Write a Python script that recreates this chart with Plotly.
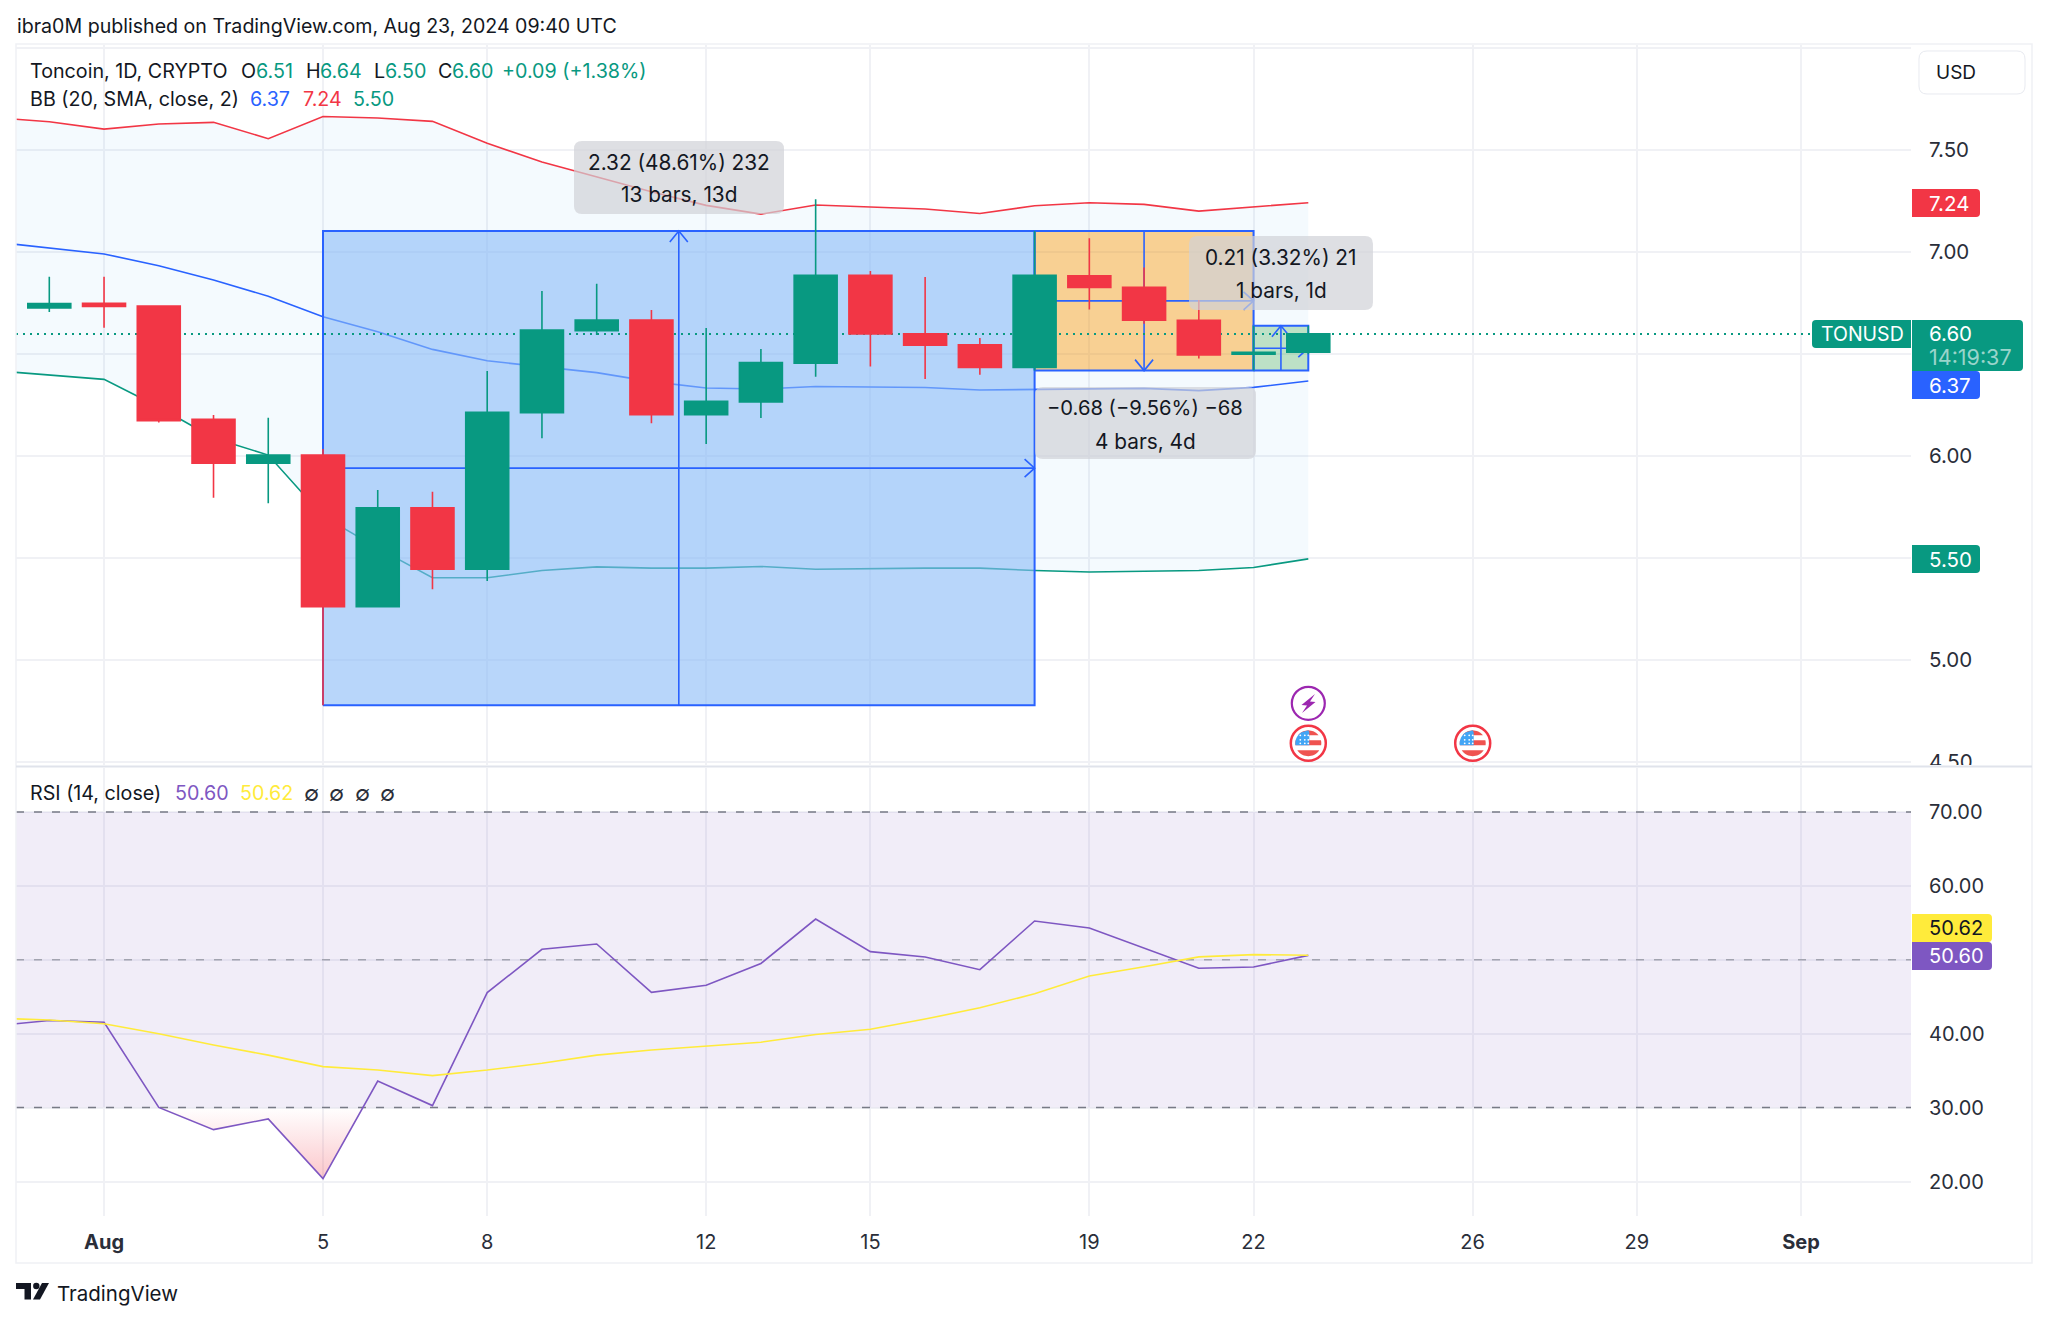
"""Toncoin daily chart with Bollinger Bands, RSI and long/short position tools."""

from __future__ import annotations

import math

import pandas as pd
import plotly.graph_objects as go

# ---- data ----
BAND_DATES = [d.strftime("%Y-%m-%d") for d in pd.date_range("2024-07-30", "2024-08-23")]
CANDLE_DATES = BAND_DATES[1:]

OPEN = [6.727, 6.75, 6.737, 6.181, 5.966, 6.006, 5.263, 5.747, 5.446, 6.214, 6.616, 6.668, 6.204,
        6.266, 6.456, 6.887, 6.60, 6.547, 6.436, 6.885, 6.828, 6.667, 6.50, 6.51]
HIGH = [6.88, 6.88, 6.737, 6.202, 6.189, 6.036, 5.835, 5.826, 6.418, 6.81, 6.846, 6.717, 6.629,
        6.526, 7.26, 6.908, 6.879, 6.58, 7.104, 7.069, 6.926, 6.766, 6.64, 6.64]
LOW = [6.707, 6.63, 6.166, 5.797, 5.77, 4.78, 5.263, 5.348, 5.389, 6.088, 6.595, 6.162, 6.06,
       6.188, 6.39, 6.44, 6.379, 6.40, 6.42, 6.72, 6.65, 6.48, 6.42, 6.50]
CLOSE = [6.749, 6.735, 6.175, 5.966, 6.006, 5.263, 5.747, 5.446, 6.216, 6.619, 6.668, 6.204, 6.27,
         6.459, 6.887, 6.60, 6.544, 6.436, 6.887, 6.828, 6.667, 6.497, 6.51, 6.60]

BB_UPPER = [7.66, 7.64, 7.604, 7.629, 7.637, 7.557, 7.666, 7.658, 7.642, 7.534, 7.443, 7.369, 7.297,
            7.23, 7.187, 7.232, 7.222, 7.212, 7.19, 7.228, 7.243, 7.235, 7.202, 7.224, 7.243]
BB_MID = [7.05, 7.02, 6.992, 6.934, 6.864, 6.785, 6.684, 6.611, 6.524, 6.468, 6.44, 6.41, 6.366,
          6.335, 6.33, 6.342, 6.34, 6.337, 6.325, 6.328, 6.333, 6.333, 6.322, 6.338, 6.369]
BB_LOWER = [6.42, 6.398, 6.377, 6.242, 6.09, 6.006, 5.707, 5.55, 5.405, 5.405, 5.44, 5.458, 5.452,
            5.452, 5.46, 5.446, 5.45, 5.452, 5.452, 5.44, 5.433, 5.436, 5.44, 5.455, 5.497]

RSI = [41.08, 41.78, 41.54, 30.03, 27.02, 28.47, 20.4, 33.6, 30.27, 45.56, 51.42, 52.14, 45.6,
       46.55, 49.5, 55.52, 51.1, 50.38, 48.66, 55.25, 54.3, 51.55, 48.85, 49.03, 50.6]
RSI_MA = [42.1, 41.85, 41.35, 40.0, 38.47, 37.1, 35.55, 35.08, 34.33, 35.08, 36.0, 37.1, 37.8,
          38.3, 38.85, 39.9, 40.6, 41.98, 43.5, 45.4, 47.8, 49.07, 50.4, 50.7, 50.62]

X_START = "2024-07-30 09:24"
X_END = "2024-09-03 00:15"
X_TICKS = ["2024-08-01", "2024-08-05", "2024-08-08", "2024-08-12", "2024-08-15", "2024-08-19",
           "2024-08-22", "2024-08-26", "2024-08-29", "2024-09-01"]
X_LABELS = ["<b>Aug</b>", "5", "8", "12", "15", "19", "22", "26", "29", "<b>Sep</b>"]
PRICE_TICKS = [4.5, 5.0, 5.5, 6.0, 6.5, 7.0, 7.5, 8.0]
PRICE_LABELS = ["4.50", "5.00", "", "6.00", "", "7.00", "7.50", ""]
RSI_TICKS = [20, 30, 40, 50, 60, 70]
RSI_LABELS = ["20.00", "30.00", "40.00", "", "60.00", "70.00"]
LAST_PRICE = 6.60

# (start, end, bottom, top, fill, vertical arrow points up)
POSITIONS = [
    ("2024-08-05", "2024-08-18", 4.78, 7.104, "rgba(137,187,247,0.6)", True),
    ("2024-08-18", "2024-08-22", 6.42, 7.104, "rgba(252,150,0,0.42)", False),
    ("2024-08-22", "2024-08-23", 6.42, 6.64, "rgba(76,175,80,0.32)", True),
]

# ---- styling ----
GREEN = "#089981"
RED = "#F23645"
BLUE = "#2962FF"
PURPLE = "#7E57C2"
YELLOW = "#FFEB3B"
INK = "#131722"
GRID = "#F0F1F5"
FONT = "Inter"

WIDTH, HEIGHT = 2048, 1321
PLOT_L, PLOT_R, PLOT_T, PLOT_B = 16, 1911, 45, 1216
PANE_SPLIT_TOP, PANE_SPLIT_BOTTOM = 765, 768
BAR_PX = 54.74
PRICE_PX = 204.0
Y_RANGE = [7 - (PANE_SPLIT_TOP - 252.3) / PRICE_PX, 7 + (252.3 - PLOT_T) / PRICE_PX]
RSI_RANGE = [70 - (PLOT_B - 812) / 7.39, 70 + (812 - PANE_SPLIT_BOTTOM) / 7.39]


def px_x(x):
    return (x - PLOT_L) / (PLOT_R - PLOT_L)


def px_y(y):
    return (PLOT_B - y) / (PLOT_B - PLOT_T)


def shift(date, days):
    return (pd.Timestamp(date) + pd.Timedelta(days=days)).round("s")


def poly_path(points):
    return "M " + " L ".join(f"{px_x(x):.5f},{px_y(y):.5f}" for x, y in points) + " Z"


def round_rect(x0, y0, x1, y1, fill, r=4, line=None, corners=(1, 1, 1, 1)):
    """Pixel box with rounded corners as a paper-space shape (tl, tr, br, bl)."""
    tl, tr, br, bl = [r * c for c in corners]
    p = lambda x, y: f"{px_x(x):.5f},{px_y(y):.5f}"
    path = (
        f"M {p(x0 + tl, y0)} L {p(x1 - tr, y0)} Q {p(x1, y0)} {p(x1, y0 + tr)} "
        f"L {p(x1, y1 - br)} Q {p(x1, y1)} {p(x1 - br, y1)} "
        f"L {p(x0 + bl, y1)} Q {p(x0, y1)} {p(x0, y1 - bl)} "
        f"L {p(x0, y0 + tl)} Q {p(x0, y0)} {p(x0 + tl, y0)} Z"
    )
    return dict(type="path", path=path, xref="paper", yref="paper", fillcolor=fill,
                line=dict(color=line or "rgba(0,0,0,0)", width=1 if line else 0), layer="above")


def circle(cx, cy, r, line, width, fill="#FFFFFF"):
    return dict(type="circle", xref="paper", yref="paper", x0=px_x(cx - r), x1=px_x(cx + r),
                y0=px_y(cy + r), y1=px_y(cy - r), fillcolor=fill,
                line=dict(color=line, width=width), layer="above")


def disc_slice(cx, cy, r, y0, y1, x_max=None):
    """Part of a disc between two pixel rows, optionally cut at a right edge."""
    rows = [y0 + (y1 - y0) * i / 8 for i in range(9)]
    left, right = [], []
    for y in rows:
        half = math.sqrt(max(r * r - (y - cy) ** 2, 0))
        left.append((cx - half, y))
        right.append((min(cx + half, x_max) if x_max is not None else cx + half, y))
    return poly_path(left + right[::-1])


def flag_shapes(cx, cy):
    shapes = [circle(cx, cy, 17.5, "#F23645", 2.5)]
    r = 13
    stripes = [(-13, -8, "#EF5350"), (-3, 2, "#EF5350"), (7, 13, "#EF5350")]
    for y0, y1, color in stripes:
        shapes.append(dict(type="path", path=disc_slice(cx, cy, r, cy + y0, cy + y1),
                           xref="paper", yref="paper", fillcolor=color, line_width=0, layer="above"))
    shapes.append(dict(type="path", path=disc_slice(cx, cy, r, cy - 13, cy + 2, x_max=cx + 1),
                       xref="paper", yref="paper", fillcolor="#42A5F5", line_width=0, layer="above"))
    # the stars of the canton
    for dx in (-8, -3.5, 0):
        for dy in (-8, -3.5, 0):
            shapes.append(circle(cx + dx, cy + dy, 0.9, "#FFFFFF", 0))
    return shapes


def label(text, x, y, color=INK, size=19.7, anchor="left"):
    return dict(text=text, x=px_x(x), y=px_y(y), xref="paper", yref="paper", showarrow=False,
                xanchor=anchor, yanchor="middle", borderpad=0, align="center",
                font=dict(family=FONT, size=size, color=color))


def position_traces(start, end, bottom, top, fill, up):
    """Box, the two centre lines and their arrow heads, all from the tool's corners."""
    head_x = 9 / BAR_PX
    head_y = 11 / PRICE_PX
    t0, t1 = pd.Timestamp(start), pd.Timestamp(end)
    mid_t = t0 + (t1 - t0) / 2
    mid_p = (bottom + top) / 2
    line = dict(color=BLUE, width=1.6)
    traces = [
        go.Scatter(x=[t0, t1, t1, t0, t0], y=[bottom, bottom, top, top, bottom], mode="lines",
                   fill="toself", fillcolor=fill, line=dict(color=BLUE, width=2), hoverinfo="skip"),
        go.Scatter(x=[t0, t1], y=[mid_p, mid_p], mode="lines", line=line, hoverinfo="skip"),
        go.Scatter(x=[mid_t, mid_t], y=[bottom, top], mode="lines", line=line, hoverinfo="skip"),
        go.Scatter(
            x=[shift(t1, -10 / BAR_PX), t1, shift(t1, -10 / BAR_PX)],
            y=[mid_p + 9 / PRICE_PX, mid_p, mid_p - 9 / PRICE_PX],
            mode="lines", line=line, hoverinfo="skip",
        ),
    ]
    tip = top if up else bottom
    back = tip - head_y if up else tip + head_y
    traces.append(
        go.Scatter(x=[shift(mid_t, -head_x), mid_t, shift(mid_t, head_x)], y=[back, tip, back],
                   mode="lines", line=line, hoverinfo="skip")
    )
    return traces


fig = go.Figure()

# Bollinger fill and lines sit at the bottom of the price pane
fig.add_trace(go.Scatter(x=BAND_DATES, y=BB_UPPER, mode="lines", line=dict(color=RED, width=1.6),
                         hoverinfo="skip"))
fig.add_trace(go.Scatter(x=BAND_DATES, y=BB_LOWER, mode="lines", line=dict(color=GREEN, width=1.6),
                         fill="tonexty", fillcolor="rgba(33,150,243,0.05)", hoverinfo="skip"))
fig.add_trace(go.Scatter(x=BAND_DATES, y=BB_MID, mode="lines", line=dict(color=BLUE, width=1.6),
                         hoverinfo="skip"))

for pos in POSITIONS:
    for trace in position_traces(*pos):
        fig.add_trace(trace)

fig.add_trace(go.Scatter(x=[X_START, X_END], y=[LAST_PRICE, LAST_PRICE], mode="lines",
                         line=dict(color=GREEN, width=2, dash="2px,5px"), hoverinfo="skip"))

# candles live on an overlaying axis so they paint above the scatter layer
fig.add_trace(go.Candlestick(
    x=CANDLE_DATES, open=OPEN, high=HIGH, low=LOW, close=CLOSE, yaxis="y3",
    increasing=dict(line=dict(color=GREEN, width=1.6), fillcolor=GREEN),
    decreasing=dict(line=dict(color=RED, width=1.6), fillcolor=RED),
    hoverinfo="skip",
))

# RSI pane: oversold wedge first, then the two lines
i_cross = RSI.index(20.4)
t_cross = (30 - RSI[i_cross]) / (RSI[i_cross + 1] - RSI[i_cross])
wedge_x = BAND_DATES[3:i_cross + 1] + [shift(BAND_DATES[i_cross], t_cross)]
wedge_y = RSI[3:i_cross + 1] + [30]
fig.add_trace(go.Scatter(
    x=wedge_x, y=wedge_y, yaxis="y2", mode="lines", line=dict(width=0), fill="toself",
    fillgradient=dict(type="vertical", colorscale=[[0, "rgba(242,54,69,0.28)"], [1, "rgba(242,54,69,0)"]]),
    hoverinfo="skip",
))
fig.add_trace(go.Scatter(x=BAND_DATES, y=RSI, yaxis="y2", mode="lines",
                         line=dict(color=PURPLE, width=1.6), hoverinfo="skip"))
fig.add_trace(go.Scatter(x=BAND_DATES, y=RSI_MA, yaxis="y2", mode="lines",
                         line=dict(color=YELLOW, width=1.6), hoverinfo="skip"))

LABEL_BOX = "rgba(208,210,215,0.7)"
shapes = [
    dict(type="rect", xref="x", yref="y2", x0=X_START, x1=X_END, y0=30, y1=70,
         fillcolor="rgba(126,87,194,0.11)", line_width=0, layer="between"),
    dict(type="line", xref="x", yref="y2", x0=X_START, x1=X_END, y0=70, y1=70, layer="between",
         line=dict(color="#787B86", width=1.5, dash="8px,10px")),
    dict(type="line", xref="x", yref="y2", x0=X_START, x1=X_END, y0=50, y1=50, layer="between",
         line=dict(color="rgba(120,123,134,0.6)", width=1.5, dash="8px,10px")),
    dict(type="line", xref="x", yref="y2", x0=X_START, x1=X_END, y0=30, y1=30, layer="between",
         line=dict(color="#787B86", width=1.5, dash="8px,10px")),
    # chrome: frame, pane separator and the cut-off 4.50 tick
    dict(type="rect", xref="paper", yref="paper", x0=px_x(16), x1=px_x(2032), y0=px_y(1263), y1=px_y(44),
         line=dict(color=GRID, width=1.5), layer="above"),
    dict(type="rect", xref="paper", yref="paper", x0=px_x(1912), x1=px_x(2030), y0=px_y(790), y1=px_y(765),
         fillcolor="#FFFFFF", line_width=0, layer="above"),
    dict(type="line", xref="paper", yref="paper", x0=px_x(16), x1=px_x(2032), y0=px_y(766.5), y1=px_y(766.5),
         line=dict(color="#E0E3EB", width=2), layer="above"),
    # measuring labels
    round_rect(574, 141, 784, 214, LABEL_BOX, r=8),
    round_rect(1189, 236, 1373, 310, LABEL_BOX, r=8),
    round_rect(1035, 387, 1256, 459, LABEL_BOX, r=8),
    # price-scale tags
    round_rect(1919, 51, 2025, 94, "#FFFFFF", r=8, line="#E8EAF0"),
    round_rect(1912, 189, 1980, 217, RED, corners=(0, 1, 1, 0)),
    round_rect(1812, 320, 1911, 348, GREEN, corners=(1, 0, 0, 1)),
    round_rect(1912, 320, 2023, 371, GREEN, corners=(0, 1, 1, 0)),
    round_rect(1912, 371, 1980, 399, BLUE, corners=(0, 1, 1, 0)),
    round_rect(1912, 545, 1980, 573, GREEN, corners=(0, 1, 1, 0)),
    round_rect(1912, 914, 1992, 942, "#FFEB3B", corners=(0, 1, 1, 0)),
    round_rect(1912, 942, 1992, 970, PURPLE, corners=(0, 1, 1, 0)),
    # event icons
    circle(1308.3, 703.3, 16.5, "#9C27B0", 2.2),
    dict(type="path", xref="paper", yref="paper", fillcolor="#9C27B0", line_width=0, layer="above",
         path=poly_path([(1315, 694), (1301.5, 705), (1307, 705.5), (1302, 713),
                         (1315.5, 702), (1310, 701.5)])),
    # TradingView mark
    dict(type="path", xref="paper", yref="paper", fillcolor=INK, line_width=0, layer="above",
         path=poly_path([(16, 1283), (31, 1283), (31, 1299.5), (24.5, 1299.5), (24.5, 1289), (16, 1289)])),
    dict(type="path", xref="paper", yref="paper", fillcolor=INK, line_width=0, layer="above",
         path=poly_path([(42, 1283), (49, 1283), (40, 1299.5), (33, 1299.5)])),
    circle(36.3, 1286, 3.2, INK, 0, fill=INK),
]
shapes += flag_shapes(1308.3, 743.3)
shapes += flag_shapes(1472.7, 743.3)

annotations = [
    label("ibra0M published on TradingView.com, Aug 23, 2024 09:40 UTC", 16, 26, size=19.6),
    label("Toncoin, 1D, CRYPTO", 29, 71),
    label("O", 240, 71), label("6.51", 255, 71, GREEN),
    label("H", 305, 71), label("6.64", 319, 71, GREEN),
    label("L", 373, 71), label("6.50", 384, 71, GREEN),
    label("C", 437, 71), label("6.60", 451, 71, GREEN),
    label("+0.09 (+1.38%)", 501, 71, GREEN),
    label("BB (20, SMA, close, 2)", 29, 99),
    label("6.37", 249, 99, BLUE), label("7.24", 302, 99, RED), label("5.50", 352, 99, GREEN),
    label("RSI (14, close)", 29, 793),
    label("50.60", 174, 793, PURPLE), label("50.62", 239, 793, YELLOW),
    label("∅", 311, 793, "#2A2E39", 22, "center"), label("∅", 336, 793, "#2A2E39", 22, "center"),
    label("∅", 362, 793, "#2A2E39", 22, "center"), label("∅", 387, 793, "#2A2E39", 22, "center"),
    label("2.32 (48.61%) 232", 679, 162, size=20.8, anchor="center"),
    label("13 bars, 13d", 679, 195, size=20.8, anchor="center"),
    label("0.21 (3.32%) 21", 1281, 257, size=20.8, anchor="center"),
    label("1 bars, 1d", 1281, 290, size=20.8, anchor="center"),
    label("−0.68 (−9.56%) −68", 1145, 408, size=20.2, anchor="center"),
    label("4 bars, 4d", 1145, 441, size=20.8, anchor="center"),
    label("USD", 1935, 72, size=19),
    label("7.24", 1928, 203, "#FFFFFF", size=20.5),
    label("TONUSD", 1820, 334, "#FFFFFF", size=19.5),
    label("6.60", 1928, 334, "#FFFFFF", size=20.5),
    label("14:19:37", 1928, 357, "rgba(255,255,255,0.6)", size=21.5),
    label("6.37", 1928, 385, "#FFFFFF", size=20.5),
    label("5.50", 1928, 559, "#FFFFFF", size=20.5),
    label("50.62", 1928, 928, INK, size=20),
    label("50.60", 1928, 956, "#FFFFFF", size=20),
    label("TradingView", 56, 1293, size=20.5),
]

price_tick_font = dict(family=FONT, size=20.5, color="#2A2E39")
rsi_tick_font = dict(family=FONT, size=20, color="#2A2E39")
h_split = (PLOT_B - PANE_SPLIT_TOP) / (PLOT_B - PLOT_T)
h_split_low = (PLOT_B - PANE_SPLIT_BOTTOM) / (PLOT_B - PLOT_T)

fig.update_layout(
    width=WIDTH,
    height=HEIGHT,
    margin=dict(l=PLOT_L, r=WIDTH - PLOT_R, t=PLOT_T, b=HEIGHT - PLOT_B),
    paper_bgcolor="white",
    plot_bgcolor="rgba(0,0,0,0)",
    showlegend=False,
    boxgap=0.215,
    boxgroupgap=0,
    shapes=shapes,
    annotations=annotations,
    xaxis=dict(
        type="date", range=[X_START, X_END], anchor="y2", tickmode="array", tickvals=X_TICKS,
        ticktext=X_LABELS, showgrid=True, gridcolor=GRID, gridwidth=1.5, zeroline=False,
        ticks="", tickfont=rsi_tick_font, ticklabelstandoff=12, rangeslider=dict(visible=False),
        showline=False,
    ),
    yaxis=dict(
        domain=[h_split, 1], range=Y_RANGE, side="right", anchor="x", tickmode="array",
        tickvals=PRICE_TICKS, ticktext=PRICE_LABELS, gridcolor=GRID, gridwidth=1.5,
        zeroline=False, ticks="", tickfont=price_tick_font, ticklabelstandoff=17, fixedrange=True,
    ),
    yaxis2=dict(
        domain=[0, h_split_low], range=RSI_RANGE, side="right", anchor="x", tickmode="array",
        tickvals=RSI_TICKS, ticktext=RSI_LABELS, gridcolor=GRID, gridwidth=1.5,
        zeroline=False, ticks="", tickfont=rsi_tick_font, ticklabelstandoff=17, fixedrange=True,
    ),
    yaxis3=dict(
        domain=[h_split, 1], range=Y_RANGE, overlaying="y", side="right", anchor="x",
        visible=False, showgrid=False, fixedrange=True,
    ),
)

fig.write_html("out.html", config=dict(displayModeBar=False),
               post_script="document.body.style.margin='0';")
